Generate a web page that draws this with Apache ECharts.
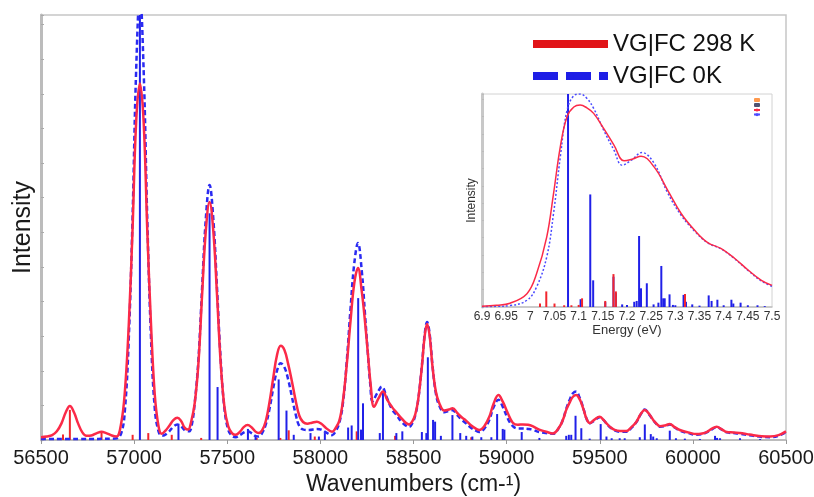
<!DOCTYPE html>
<html><head><meta charset="utf-8">
<script src="https://cdn.jsdelivr.net/npm/echarts@6/dist/echarts.min.js"></script>
<style>html,body{margin:0;padding:0;background:#fff}#c{width:814px;height:497px}</style>
</head><body><div id="c"></div>
<script>
// ---------- Main spectrum (wavenumber, cm-1) ----------
const mainRedX = [56500,56530,56560,56585,56610,56633,56655,56677,56699,56722,56744,56770,56800,56825,56850,56880,56905,56931,56951,56971,56991,57011,57031,57051,57071,57091,57111,57131,57148,57170,57190,57212,57232,57252,57272,57290,57305,57325,57345,57365,57385,57405,57425,57445,57465,57485,57505,57525,57545,57570,57590,57609,57630,57650,57668,57687,57707,57727,57747,57767,57787,57807,57827,57847,57867,57887,57907,57930,57955,57981,58005,58030,58063,58082,58102,58122,58142,58162,58182,58202,58222,58240,58255,58270,58288,58312,58336,58360,58385,58405,58440,58476,58495,58510,58525,58545,58560,58573,58587,58602,58620,58638,58665,58690,58710,58735,58760,58782,58810,58835,58853,58880,58907,58930,58956,58980,59006,59033,59060,59087,59115,59139,59175,59212,59248,59284,59305,59320,59340,59356,59374,59390,59401,59415,59428,59446,59470,59499,59520,59535,59555,59580,59610,59643,59670,59697,59720,59742,59765,59787,59805,59823,59850,59876,59900,59930,59975,60020,60050,60074,60100,60128,60155,60182,60220,60253,60290,60325,60370,60415,60460,60500];
const mainRedY = [0.08,0.1,0.14,0.25,0.48,0.8,0.98,0.8,0.48,0.22,0.12,0.13,0.2,0.24,0.2,0.13,0.1,0.5,1.45,3.3,6.0,9.2,10.3,9.2,6.0,3.3,1.3,0.4,0.18,0.28,0.42,0.58,0.64,0.55,0.35,0.3,0.5,1.05,2.2,4.2,6.05,6.88,6.05,4.2,2.2,0.95,0.4,0.2,0.15,0.25,0.38,0.43,0.37,0.25,0.2,0.28,0.55,1.1,1.8,2.45,2.72,2.6,2.2,1.7,1.15,0.7,0.52,0.47,0.5,0.53,0.47,0.35,0.24,0.35,0.56,1.17,2.2,3.44,4.53,4.97,4.3,3.4,2.5,1.6,0.96,1.2,1.4,1.15,0.95,0.82,0.6,0.45,0.55,0.75,1.16,2.12,3.0,3.35,3.0,2.12,1.4,1.07,0.85,0.88,0.92,0.78,0.65,0.56,0.42,0.33,0.29,0.4,0.67,1.05,1.3,1.1,0.78,0.5,0.44,0.45,0.44,0.4,0.3,0.24,0.19,0.38,0.62,0.87,1.1,1.25,1.3,1.2,1.07,0.85,0.63,0.49,0.58,0.67,0.58,0.49,0.38,0.29,0.26,0.26,0.37,0.53,0.75,0.87,0.75,0.58,0.47,0.4,0.42,0.46,0.38,0.29,0.22,0.17,0.19,0.23,0.32,0.38,0.31,0.23,0.22,0.2,0.17,0.14,0.11,0.1,0.14,0.25];

const mainBlueX = [56500,56700,56900,56931,56951,56971,56991,57011,57031,57051,57071,57091,57111,57131,57150,57180,57210,57232,57255,57275,57295,57310,57325,57345,57365,57385,57405,57425,57445,57465,57485,57505,57525,57545,57570,57590,57609,57630,57650,57668,57687,57707,57727,57747,57767,57787,57807,57827,57847,57867,57887,57910,57940,57981,58005,58030,58063,58082,58102,58122,58142,58162,58182,58202,58222,58240,58255,58268,58280,58305,58330,58355,58385,58405,58440,58476,58495,58510,58525,58545,58560,58573,58587,58602,58620,58638,58665,58690,58710,58735,58760,58782,58810,58835,58853,58880,58907,58930,58956,58980,59006,59033,59060,59087,59115,59139,59175,59212,59248,59284,59305,59320,59340,59356,59374,59390,59401,59415,59428,59446,59470,59499,59520,59535,59555,59580,59610,59643,59670,59697,59720,59742,59765,59787,59805,59823,59850,59876,59900,59930,59975,60020,60050,60074,60100,60128,60155,60182,60220,60253,60290,60325,60370,60415,60460,60500];
const mainBlueY = [0.03,0.03,0.04,0.2,0.9,2.9,6.3,10.7,12.9,10.7,6.3,2.9,0.9,0.25,0.12,0.2,0.38,0.45,0.38,0.27,0.25,0.45,1.05,2.3,4.4,6.4,7.37,6.4,4.4,2.3,0.9,0.3,0.12,0.08,0.15,0.22,0.25,0.2,0.12,0.1,0.2,0.45,0.9,1.5,2.0,2.22,2.1,1.75,1.25,0.75,0.4,0.3,0.29,0.32,0.3,0.22,0.14,0.25,0.5,1.1,2.3,3.8,5.1,5.69,4.9,3.6,2.5,1.6,1.12,1.35,1.54,1.25,0.88,0.75,0.5,0.38,0.5,0.72,1.15,2.15,3.05,3.41,3.05,2.15,1.35,1.0,0.8,0.84,0.86,0.72,0.58,0.48,0.35,0.27,0.23,0.33,0.58,0.95,1.16,0.95,0.62,0.4,0.33,0.33,0.32,0.3,0.23,0.2,0.18,0.38,0.63,0.9,1.18,1.35,1.4,1.25,1.1,0.86,0.63,0.48,0.56,0.66,0.58,0.48,0.37,0.28,0.24,0.24,0.35,0.52,0.74,0.88,0.74,0.57,0.46,0.38,0.4,0.45,0.37,0.27,0.2,0.15,0.17,0.22,0.3,0.37,0.3,0.22,0.2,0.18,0.15,0.12,0.09,0.08,0.12,0.23];

const mainRedStickX = [56618,56655,56825,56992,57076,57202,57360,57658,57785,57830,57970,58195,58401,58810];
const mainRedStickY = [0.16,0.87,0.24,0.15,0.2,0.15,0.06,0.06,0.06,0.28,0.1,0.25,0.12,0.08];

const mainBlueStickX = [57031,57238,57405,57448,57611,57652,57776,57818,57857,57947,57992,58024,58149,58168,58203,58218,58229,58319,58336,58408,58440,58545,58569,58577,58605,58616,58647,58709,58751,58783,58816,58864,58918,58949,58979,58988,59081,59176,59320,59334,59347,59370,59401,59446,59505,59536,59564,59607,59634,59715,59742,59774,59787,59806,59876,59909,59957,60038,60119,60130,60146,60253,60361];
const mainBlueStickY = [14,0.46,6.55,1.53,0.32,0.1,1.75,0.85,0.15,0.2,0.1,0.2,0.36,0.42,4.1,0.3,1.06,0.2,1.4,0.2,0.25,0.23,0.2,2.39,0.58,0.53,0.12,0.72,0.2,0.12,0.1,0.08,0.08,0.75,0.32,0.3,0.23,0.06,0.12,0.15,0.15,0.7,0.34,0.04,0.46,0.1,0.05,0.05,0.05,0.08,0.45,0.17,0.1,0.05,0.27,0.05,0.04,0.03,0.12,0.06,0.05,0.05,0.03];

const mainXTicks = {min: 56500, max: 60500, step: 500};

// ---------- Inset spectrum (energy, eV) ----------
const insetRedX = [6.9,6.93,6.958,6.993,7.013,7.034,7.048,7.062,7.076,7.09,7.103,7.117,7.131,7.152,7.173,7.194,7.212,7.229,7.256,7.284,7.312,7.34,7.367,7.395,7.423,7.451,7.478,7.5];
const insetRedY = [0.05,0.1,0.22,0.77,1.93,4.05,6.55,9.25,11.0,11.55,11.66,11.5,11.18,10.3,9.35,8.44,8.55,8.71,8.09,6.75,5.4,4.43,3.72,3.37,2.8,2.12,1.54,1.25];
const insetBlueX = [6.9,6.93,6.958,6.993,7.013,7.034,7.048,7.062,7.076,7.09,7.103,7.117,7.131,7.152,7.173,7.19,7.21,7.231,7.256,7.284,7.312,7.34,7.367,7.395,7.423,7.451,7.478,7.5];
const insetBlueY = [0.02,0.04,0.08,0.39,1.16,2.9,5.4,8.67,11.37,12.2,12.3,12.05,11.47,10.2,9.06,8.19,8.5,8.92,8.3,6.6,5.3,4.38,3.7,3.35,2.78,2.1,1.5,1.2];

const insetRedStickX = [7.02,7.033,7.05,7.07,7.085,7.1,7.107,7.155,7.172,7.177,7.32];
const insetRedStickY = [0.2,0.9,0.2,0.1,0.1,0.12,0.5,0.35,1.9,0.9,0.75];
const insetBlueStickX = [7.078,7.104,7.124,7.13,7.155,7.172,7.177,7.19,7.2,7.215,7.22,7.225,7.229,7.241,7.255,7.265,7.271,7.275,7.278,7.288,7.295,7.3,7.317,7.322,7.335,7.35,7.369,7.375,7.387,7.4,7.416,7.42,7.435,7.45,7.47,7.485];
const insetBlueStickY = [13,0.45,6.5,1.54,0.28,1.75,0.8,0.15,0.12,0.3,0.35,4.1,1.08,1.37,0.15,0.25,2.37,0.5,0.5,0.73,0.12,0.1,0.7,0.3,0.15,0.08,0.67,0.35,0.42,0.1,0.42,0.2,0.25,0.1,0.1,0.05];

const insetXTicks = {min: 6.9, max: 7.5, step: 0.05};

const legendNames = ['VG|FC 298 K', 'VG|FC 0K'];
const insetNames = ['298 K sticks', '0 K sticks', '298 K curve', '0 K curve'];

// ---------- build ----------
const zip = (xs, ys) => xs.map((x, i) => [x, ys[i]]);
const FONT = "'Liberation Sans', Arial, sans-serif";
const RED = '#fb2a48', BLUE = '#2a2af2', RED_STICK = '#f2262e', BLUE_STICK = '#2020e8';

function sticks(name, xs, ys, color, gi, w, ymax, z) {
  return {
    type: 'custom', name, xAxisIndex: gi, yAxisIndex: gi, z, clip: true,
    data: zip(xs, ys), encode: {x: 0, y: 1}, silent: true,
    renderItem: (params, api) => {
      const x = api.value(0), y = Math.min(api.value(1), ymax);
      const p0 = api.coord([x, 0]), p1 = api.coord([x, y]);
      return {type: 'line', shape: {x1: p0[0], y1: p0[1], x2: p1[0], y2: p1[1]},
              style: {stroke: color, lineWidth: w}};
    }
  };
}

const chart = echarts.init(document.getElementById('c'), null, {renderer: 'canvas'});
const option = {
  animation: false,
  backgroundColor: '#fff',
  textStyle: {fontFamily: FONT},
  grid: [
    {left: 41, top: 15, right: 28, bottom: 57, show: true, borderColor: '#c6c6c6', borderWidth: 1.5, backgroundColor: '#fff', z: 0,
     containLabel: false, outerBoundsMode: 'none'},
    {left: 482, top: 94, width: 290, height: 213, show: true, borderColor: '#d2d2d2', borderWidth: 1, backgroundColor: '#fff', z: 5,
     containLabel: false, outerBoundsMode: 'none'}
  ],
  xAxis: [
    {type: 'value', gridIndex: 0, min: mainXTicks.min, max: mainXTicks.max, interval: mainXTicks.step,
     axisLine: {lineStyle: {color: '#b4b4b4', width: 1.5}},
     axisTick: {show: true, length: 4, lineStyle: {color: '#999'}},
     axisLabel: {fontSize: 20, color: '#1a1a1a', margin: 8, fontFamily: FONT, formatter: v => String(v)},
     splitLine: {show: false},
     name: 'Wavenumbers (cm-¹)', nameLocation: 'middle', nameGap: 33,
     nameTextStyle: {fontSize: 23, color: '#1a1a1a', fontFamily: FONT}},
    {type: 'value', gridIndex: 1, min: insetXTicks.min, max: insetXTicks.max, interval: insetXTicks.step, z: 7,
     axisLine: {lineStyle: {color: '#c0c0c0', width: 1.5}},
     axisTick: {show: false},
     axisLabel: {fontSize: 12, color: '#333', margin: 4, fontFamily: FONT, formatter: v => String(+v.toFixed(2))},
     splitLine: {show: false},
     name: 'Energy (eV)', nameLocation: 'middle', nameGap: 16,
     nameTextStyle: {fontSize: 13, color: '#333', fontFamily: FONT}}
  ],
  yAxis: [
    {type: 'value', gridIndex: 0, min: 0, max: 12.28, interval: 1,
     axisLine: {show: true, lineStyle: {color: '#bcbcbc', width: 3}},
     axisTick: {show: true, inside: true, length: 3, lineStyle: {color: '#aaa'}},
     axisLabel: {show: false}, splitLine: {show: false},
     name: 'Intensity', nameLocation: 'middle', nameGap: 5,
     nameTextStyle: {fontSize: 25, color: '#1a1a1a', fontFamily: FONT}},
    {type: 'value', gridIndex: 1, min: 0, max: 12.3, interval: 1, z: 7,
     axisLine: {show: true, lineStyle: {color: '#c8c8c8', width: 3}},
     axisTick: {show: true, inside: true, length: 2, lineStyle: {color: '#bbb'}},
     axisLabel: {show: false}, splitLine: {show: false},
     name: 'Intensity', nameLocation: 'middle', nameGap: 4,
     nameTextStyle: {fontSize: 12, color: '#333', fontFamily: FONT}}
  ],
  legend: [
    {orient: 'vertical', left: 529, top: 32, itemWidth: 75, itemHeight: 8, itemGap: 8, padding: 0,
     textStyle: {fontSize: 24, color: '#111', fontFamily: FONT},
     data: [
       {name: legendNames[0], lineStyle: {width: 8, color: '#e11418', type: 'solid'}, itemStyle: {color: '#e11418'}},
       {name: legendNames[1], lineStyle: {width: 8, color: '#1e1ee6', type: [25, 8]}, itemStyle: {color: '#1e1ee6'}}
     ]},
    {orient: 'vertical', left: 753, top: 98, itemWidth: 6, itemHeight: 4, itemGap: 1, padding: 0, z: 8,
     formatter: () => '', data: insetNames}
  ],
  series: [
    sticks('main 298 K sticks', mainRedStickX, mainRedStickY, RED_STICK, 0, 2, 12.28, 2),
    sticks('main 0 K sticks', mainBlueStickX, mainBlueStickY, BLUE_STICK, 0, 2, 12.28, 2),
    {type: 'line', name: legendNames[1], xAxisIndex: 0, yAxisIndex: 0, data: zip(mainBlueX, mainBlueY),
     smooth: 0.4, showSymbol: false, symbol: 'none', z: 3, clip: true,
     lineStyle: {color: BLUE, width: 2.5, type: [5, 3]}, itemStyle: {color: BLUE}},
    {type: 'line', name: legendNames[0], xAxisIndex: 0, yAxisIndex: 0, data: zip(mainRedX, mainRedY),
     smooth: 0.4, showSymbol: false, symbol: 'none', z: 4, clip: true,
     lineStyle: {color: RED, width: 2.5}, itemStyle: {color: RED}},
    sticks(insetNames[1], insetBlueStickX, insetBlueStickY, BLUE_STICK, 1, 2, 12.3, 8),
    sticks(insetNames[0], insetRedStickX, insetRedStickY, RED_STICK, 1, 2, 12.3, 8),
    {type: 'line', name: insetNames[3], xAxisIndex: 1, yAxisIndex: 1, data: zip(insetBlueX, insetBlueY),
     smooth: 0.4, showSymbol: false, symbol: 'none', z: 9, clip: true,
     lineStyle: {color: '#4a4aff', width: 1.5, type: [2, 2]}, itemStyle: {color: '#4a4aff'}},
    {type: 'line', name: insetNames[2], xAxisIndex: 1, yAxisIndex: 1, data: zip(insetRedX, insetRedY),
     smooth: 0.4, showSymbol: false, symbol: 'none', z: 10, clip: true,
     lineStyle: {color: RED, width: 1.5}, itemStyle: {color: RED}}
  ]
};
chart.setOption(option);
</script>
</body></html>
